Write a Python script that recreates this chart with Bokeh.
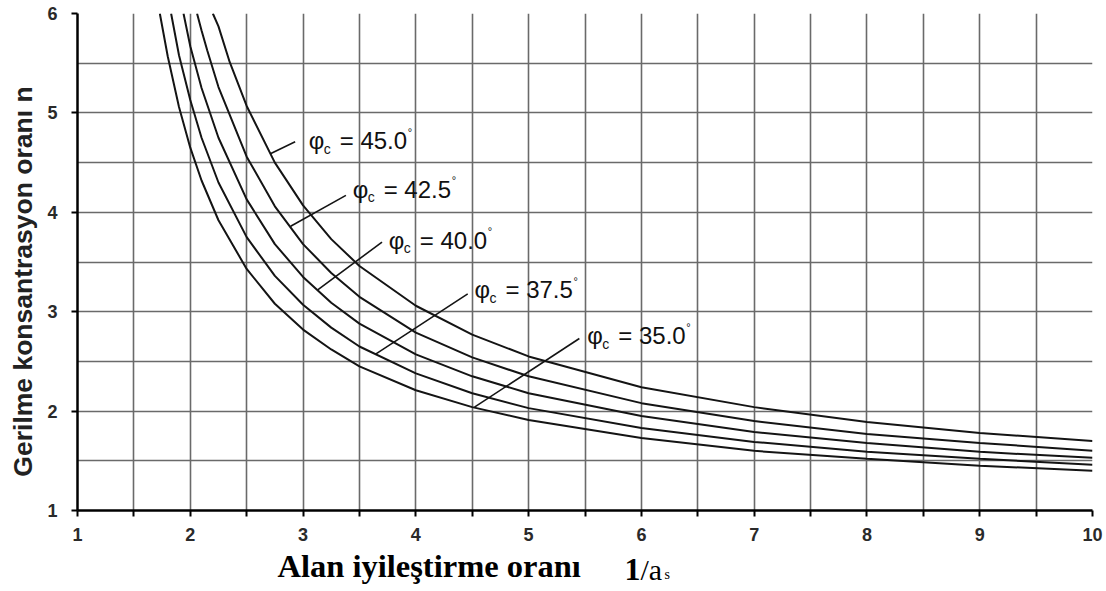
import math
from bokeh.plotting import figure
from bokeh.layouts import column, row
from bokeh.models import Range1d, FixedTicker, Label
from bokeh.embed import file_html
from bokeh.resources import INLINE

# ---------------- data ----------------
x_ticks = [1, 2, 3, 4, 5, 6, 7, 8, 9, 10]
y_ticks = [1, 2, 3, 4, 5, 6]

curve_names = ["35.0", "37.5", "40.0", "42.5", "45.0"]

x_35 = [1.73, 1.80, 1.90, 2.00, 2.10, 2.25, 2.50, 2.75, 3.00, 3.25, 3.50, 4.00, 4.50, 5.00, 6.00, 7.00, 8.00, 9.00, 10.00]
n_35 = [6.00, 5.57, 5.06, 4.65, 4.32, 3.92, 3.43, 3.08, 2.82, 2.62, 2.45, 2.21, 2.04, 1.91, 1.73, 1.60, 1.52, 1.45, 1.40]

x_375 = [1.83, 1.90, 2.00, 2.10, 2.25, 2.50, 2.75, 3.00, 3.25, 3.50, 4.00, 4.50, 5.00, 6.00, 7.00, 8.00, 9.00, 10.00]
n_375 = [6.00, 5.58, 5.13, 4.75, 4.30, 3.75, 3.36, 3.07, 2.84, 2.65, 2.38, 2.18, 2.03, 1.83, 1.69, 1.59, 1.52, 1.46]

x_40 = [1.94, 2.00, 2.10, 2.25, 2.50, 2.75, 3.00, 3.25, 3.50, 4.00, 4.50, 5.00, 6.00, 7.00, 8.00, 9.00, 10.00]
n_40 = [6.00, 5.67, 5.25, 4.75, 4.13, 3.68, 3.35, 3.09, 2.88, 2.57, 2.35, 2.18, 1.95, 1.79, 1.68, 1.59, 1.53]

x_425 = [2.06, 2.10, 2.15, 2.25, 2.50, 2.75, 3.00, 3.25, 3.50, 4.00, 4.50, 5.00, 6.00, 7.00, 8.00, 9.00, 10.00]
n_425 = [6.00, 5.83, 5.63, 5.26, 4.56, 4.06, 3.68, 3.39, 3.15, 2.79, 2.54, 2.35, 2.08, 1.90, 1.77, 1.68, 1.60]

x_45 = [2.20, 2.25, 2.35, 2.50, 2.75, 3.00, 3.25, 3.50, 4.00, 4.50, 5.00, 6.00, 7.00, 8.00, 9.00, 10.00]
n_45 = [6.00, 5.87, 5.51, 5.07, 4.50, 4.07, 3.73, 3.46, 3.06, 2.77, 2.55, 2.24, 2.04, 1.89, 1.78, 1.70]

curves_x = [x_35, x_375, x_40, x_425, x_45]
curves_n = [n_35, n_375, n_40, n_425, n_45]

# label anchors (data units) and leader lines (start near label, end on curve)
label_x = [5.52, 4.52, 3.76, 3.44, 3.05]
label_y = [2.76, 3.22, 3.72, 4.23, 4.72]
leader_x0 = [5.45, 4.46, 3.70, 3.38, 2.93]
leader_y0 = [2.73, 3.18, 3.70, 4.17, 4.71]
leader_x1 = [4.52, 3.64, 3.13, 2.89, 2.71]
leader_y1 = [2.04, 2.57, 3.22, 3.86, 4.59]

y_title = "Gerilme konsantrasyon oranı n"
x_title = "Alan iyileştirme oranı"


def strip(w, h):
    f = figure(frame_width=w, frame_height=h, x_range=Range1d(0, w), y_range=Range1d(0, h),
               output_backend="svg", toolbar_location=None, x_axis_type=None, y_axis_type=None,
               title=None, min_border=0, min_border_left=0, min_border_right=0,
               min_border_top=0, min_border_bottom=0)
    f.outline_line_color = None
    f.xgrid.visible = False
    f.ygrid.visible = False
    f.background_fill_color = "white"
    f.border_fill_color = "white"
    return f


LEFT_W = 40
TOP_H = 548

# ---------------- main figure ----------------
p = figure(width=1106 - LEFT_W, height=TOP_H, x_range=Range1d(1, 10), y_range=Range1d(1, 6),
           output_backend="svg", toolbar_location=None, title=None,
           min_border_left=77 - LEFT_W, min_border_right=14, min_border_top=13, min_border_bottom=38)
p.outline_line_color = None
p.background_fill_color = "white"
p.border_fill_color = "white"

xt = FixedTicker(ticks=x_ticks, minor_ticks=[t + 0.5 for t in x_ticks[:-1]])
yt = FixedTicker(ticks=y_ticks, minor_ticks=[t + 0.5 for t in y_ticks[:-1]])
p.xaxis.ticker = xt
p.yaxis.ticker = yt
p.xgrid.ticker = xt
p.ygrid.ticker = yt

grid_col = "#6a6a6a"
for g in (p.xgrid, p.ygrid):
    g.grid_line_color = grid_col
    g.grid_line_width = 1.6
    g.minor_grid_line_color = grid_col
    g.minor_grid_line_width = 1.6

for ax in (p.xaxis, p.yaxis):
    ax.axis_line_color = "black"
    ax.axis_line_width = 2.5
    ax.major_tick_line_color = "black"
    ax.major_tick_line_width = 2
    ax.major_tick_in = 0
    ax.major_tick_out = 6
    ax.major_label_text_font = "Liberation Sans"
    ax.major_label_text_font_style = "bold"
    ax.major_label_text_font_size = "18px"
    ax.major_label_text_color = "#2a2a2a"

p.xaxis.minor_tick_line_color = "black"
p.xaxis.minor_tick_line_width = 2
p.xaxis.minor_tick_in = 0
p.xaxis.minor_tick_out = 6
p.xaxis.major_label_standoff = 11
p.yaxis.minor_tick_line_color = None
p.yaxis.major_label_standoff = 14

# curves
for xs, ns in zip(curves_x, curves_n):
    p.line(xs, ns, line_color="#141414", line_width=2)

# leader lines
p.segment(x0=leader_x0, y0=leader_y0, x1=leader_x1, y1=leader_y1,
          line_color="#141414", line_width=1.6)

# curve labels
for name, lx, ly in zip(curve_names, label_x, label_y):
    p.add_layout(Label(x=lx, y=ly, text="φ", text_font="Liberation Sans",
                       text_font_size="24px", text_baseline="middle", text_color="#111111"))
    p.add_layout(Label(x=lx, y=ly, x_offset=15, y_offset=-8, text="c", text_font="Liberation Sans",
                       text_font_size="14px", text_baseline="middle", text_color="#111111"))
    p.add_layout(Label(x=lx, y=ly, x_offset=31, text="= " + name, text_font="Liberation Sans",
                       text_font_size="24px", text_baseline="middle", text_color="#111111"))
    p.add_layout(Label(x=lx, y=ly, x_offset=99, y_offset=9, text="°", text_font="Liberation Sans",
                       text_font_size="11px", text_baseline="middle", text_color="#111111"))

# ---------------- left strip: y title ----------------
left = strip(LEFT_W, TOP_H)
left.add_layout(Label(x=22, y=TOP_H - 268, text=y_title, angle=math.pi / 2,
                      text_align="center", text_baseline="middle", text_font="Liberation Sans",
                      text_font_style="bold", text_font_size="26.5px", text_color="#222222"))

# ---------------- bottom strip: x title ----------------
BOT_H = 591 - TOP_H
bottom = strip(1106, BOT_H)
bottom.add_layout(Label(x=277, y=26, text=x_title, text_align="left",
                        text_baseline="alphabetic", text_font="Liberation Serif",
                        text_font_style="bold", text_font_size="32.5px", text_color="black"))
bottom.add_layout(Label(x=624, y=22, text="1", text_align="left",
                        text_baseline="alphabetic", text_font="Liberation Serif",
                        text_font_style="bold", text_font_size="32px", text_color="black"))
bottom.add_layout(Label(x=640, y=22, text="/a", text_align="left",
                        text_baseline="alphabetic", text_font="Liberation Serif",
                        text_font_size="30px", text_color="black"))
bottom.add_layout(Label(x=664, y=17, text="s", text_align="left",
                        text_baseline="alphabetic", text_font="Liberation Serif",
                        text_font_size="14px", text_color="black"))

layout = column(row(left, p, spacing=0), bottom, spacing=0)
open("out.html", "w").write(file_html(layout, INLINE))
